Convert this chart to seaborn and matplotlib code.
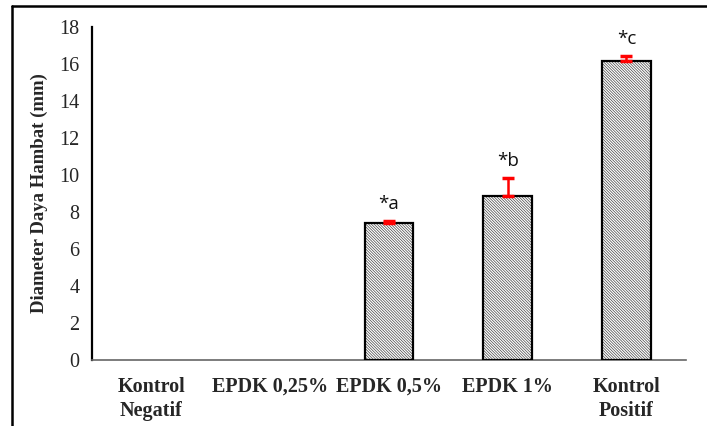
import matplotlib
matplotlib.use("Agg")
import matplotlib.pyplot as plt
import seaborn as sns
import pandas as pd
import numpy as np
from matplotlib.lines import Line2D
from matplotlib.patches import Rectangle

# data
categories = ["Kontrol\nNegatif", "EPDK 0,25%", "EPDK 0,5%", "EPDK 1%", "Kontrol\nPositif"]
diameter = [0.0, 0.0, 7.38, 8.85, 16.17]
err_up = [0.0, 0.0, 0.14, 1.0, 0.28]
notes = ["", "", "*a", "*b", "*c"]
y_ticks = [0, 2, 4, 6, 8, 10, 12, 14, 16, 18]

df = pd.DataFrame({"kelompok": categories, "diameter": diameter})

sns.set_style("white")
plt.rcParams["font.family"] = ["Liberation Serif", "DejaVu Serif"]
plt.rcParams["hatch.linewidth"] = 0.5

fig = plt.figure(figsize=(7.07, 4.26), dpi=100)
ax = fig.add_axes([0.130, 0.155, 0.840, 0.782])

sns.barplot(data=df, x="kelompok", y="diameter", color="white", width=0.41,
            edgecolor="#444444", linewidth=0, ax=ax)

bars = list(ax.patches)
for p in bars:
    p.set_hatch("\\" * 12)
    if p.get_height() > 0:
        ax.add_patch(Rectangle(p.get_xy(), p.get_width(), p.get_height(),
                               fill=False, edgecolor="black", linewidth=1.6, zorder=3))

centers = [p.get_x() + p.get_width() / 2 for p in bars]
lower = np.zeros(len(err_up))
shown = [i for i, v in enumerate(diameter) if v > 0]
ax.errorbar([centers[i] for i in shown], [diameter[i] for i in shown],
            yerr=[lower[shown], [err_up[i] for i in shown]],
            fmt="none", ecolor="red", elinewidth=1.8, capsize=4, capthick=2.5, zorder=4)

for i in shown:
    ax.text(centers[i], diameter[i] + err_up[i] + 0.4, notes[i], ha="center", va="bottom",
            fontsize=13.5, family=["Open Sans", "DejaVu Sans"], color="#111111")

ax.set_ylim(0, 18)
ax.set_xlim(-0.5, len(categories) - 0.5)
ax.set_yticks(y_ticks)
ax.set_yticklabels([str(t) for t in y_ticks], fontsize=14.5)
ax.set_xticks(range(len(categories)))
ax.set_xticklabels(categories, fontsize=14.5, fontweight="bold", linespacing=1.3)
ax.set_xticks(np.arange(-0.5, len(categories), 1.0), minor=True)
ax.tick_params(axis="x", which="major", length=0, pad=12)
ax.tick_params(axis="x", which="minor", length=7, width=1.0, color="#555555", direction="out")
ax.tick_params(axis="y", length=5, width=1.5, color="black", direction="out", pad=4)

ax.set_xlabel("")
ax.set_ylabel("Diameter Daya Hambat (mm)", fontsize=13.5, fontweight="bold", labelpad=8)

for s in ["top", "right"]:
    ax.spines[s].set_visible(False)
ax.spines["left"].set_color("black")
ax.spines["left"].set_linewidth(1.6)
ax.spines["bottom"].set_color("#666666")
ax.spines["bottom"].set_linewidth(1.2)

# frame drawn around the picture (top and left visible)
fig.add_artist(Line2D([0.017, 1.0], [0.986, 0.986], transform=fig.transFigure, color="black", linewidth=1.8))
fig.add_artist(Line2D([0.017, 0.017], [0.0, 0.986], transform=fig.transFigure, color="black", linewidth=1.8))

fig.savefig("out.png", dpi=100)
